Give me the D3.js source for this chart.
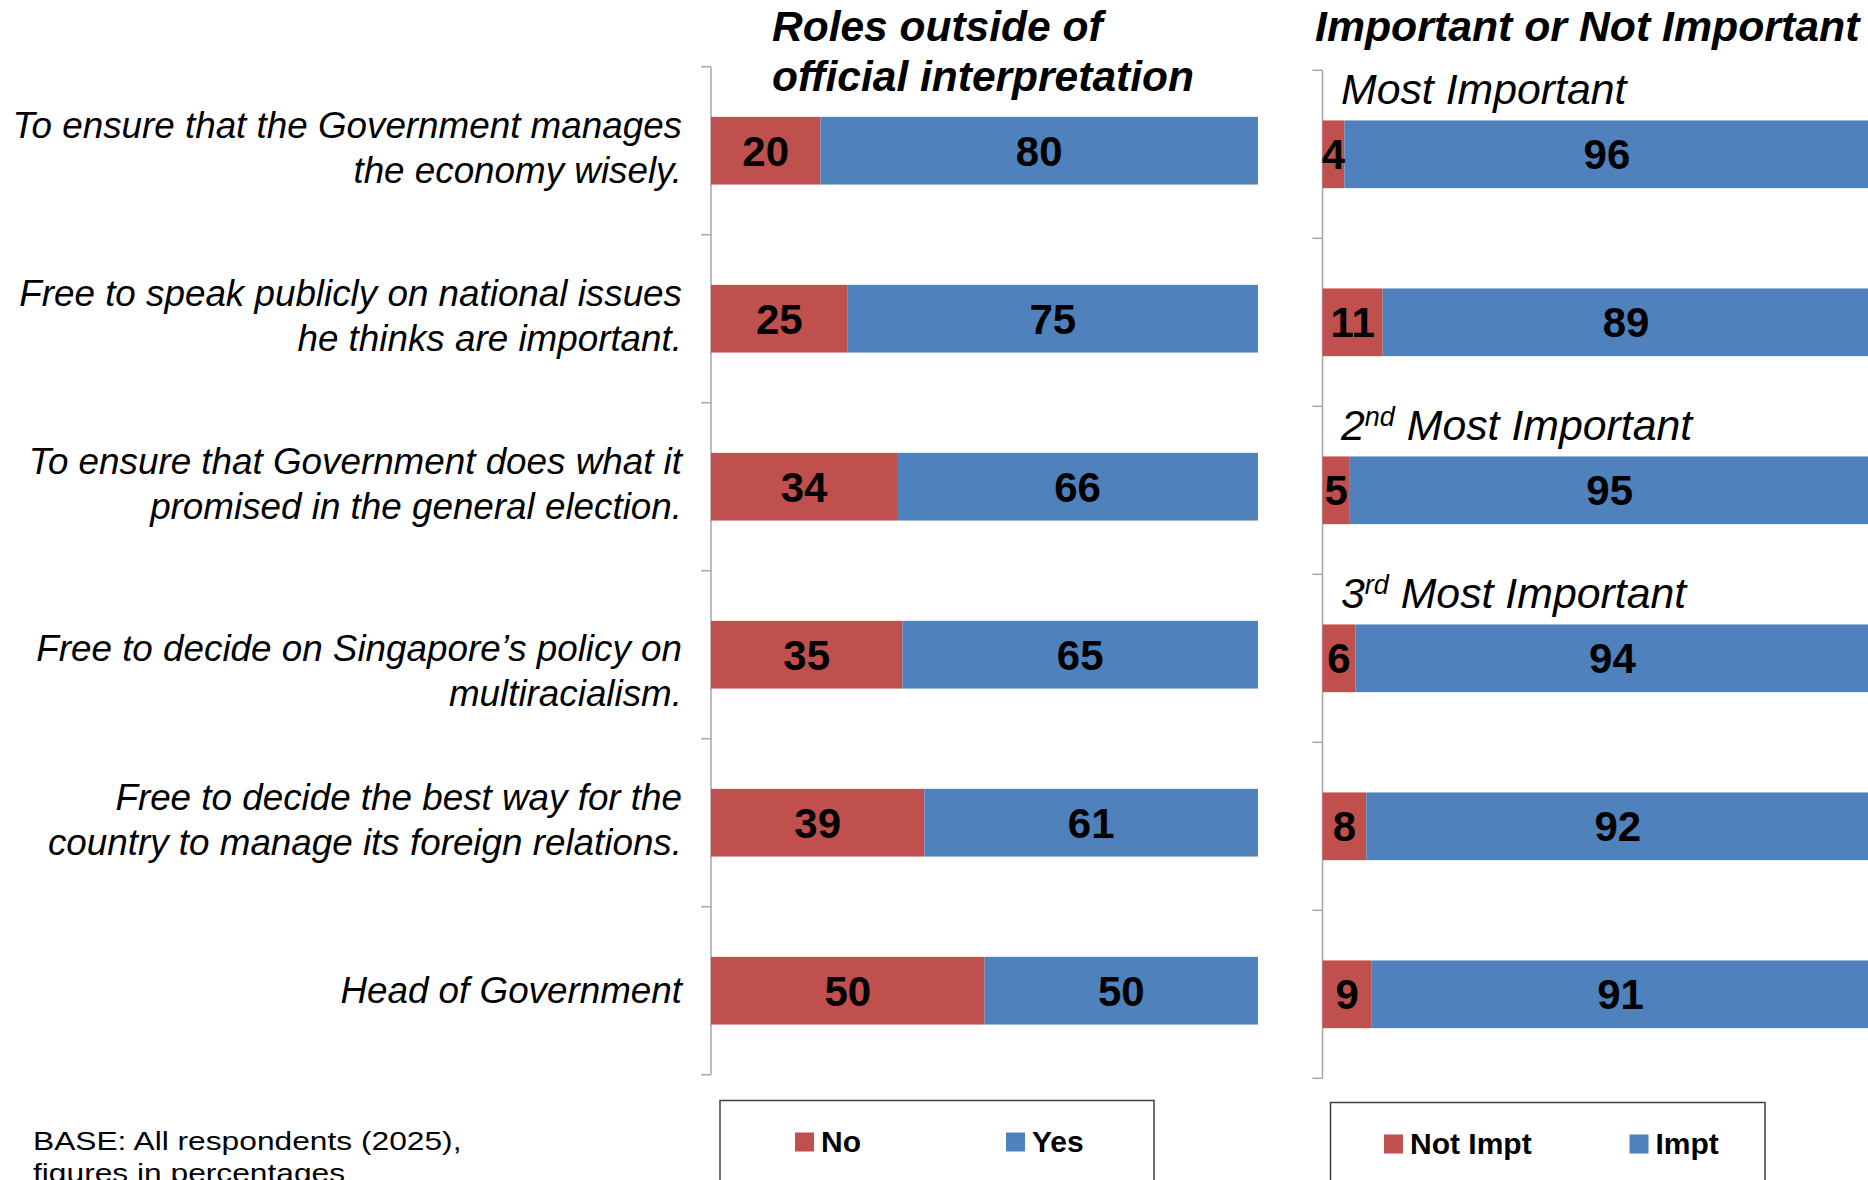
<!DOCTYPE html>
<html>
<head>
<meta charset="utf-8">
<script src="https://cdn.jsdelivr.net/npm/d3@7"></script>
<style>
  html, body { margin: 0; padding: 0; background: #fff; }
  svg { display: block; }
  text { font-family: "Liberation Sans", Arial, sans-serif; }
</style>
</head>
<body>
<svg id="chart" width="1868" height="1180"></svg>
<script>
// Row labels (each entry is split into its display lines)
const categories = [
  ["To ensure that the Government manages", "the economy wisely."],
  ["Free to speak publicly on national issues", "he thinks are important."],
  ["To ensure that Government does what it", "promised in the general election."],
  ["Free to decide on Singapore\u2019s policy on", "multiracialism."],
  ["Free to decide the best way for the", "country to manage its foreign relations."],
  ["Head of Government"]
];

// Left panel: roles outside of official interpretation
const noValues  = [20, 25, 34, 35, 39, 50];
const yesValues = [80, 75, 66, 65, 61, 50];

// Right panel: important or not important
const notImptValues = [4, 11, 5, 6, 8, 9];
const imptValues    = [96, 89, 95, 94, 92, 91];

// Rank captions above rows of the right panel
const rankCaptions = [
  { row: 0, ord: "",  sup: "",   text: "Most Important" },
  { row: 2, ord: "2", sup: "nd", text: " Most Important" },
  { row: 3, ord: "3", sup: "rd", text: " Most Important" }
];

const panelTitles = [["Roles outside of", "official interpretation"], ["Important or Not Important"]];
const leftLegend  = ["No", "Yes"];
const rightLegend = ["Not Impt", "Impt"];
const baseNote    = ["BASE: All respondents (2025),", "figures in percentages"];

const RED = "#C0504D", BLUE = "#4F81BD", AXIS = "#A6A6A6";

const svg = d3.select("#chart");
const rows = d3.range(categories.length);

function panel(opts) {
  const { x0, x1, y0, y1, first, second } = opts;
  const x = d3.scaleLinear().domain([0, 100]).range([x0, x1]);
  const y = d3.scaleBand().domain(rows).range([y0, y1])
    .paddingInner(0.597).paddingOuter(0.2985);
  const step = y.step();
  const g = svg.append("g");

  // Vertical category axis with outward ticks at band boundaries
  g.append("line")
    .attr("x1", x0).attr("x2", x0).attr("y1", y0).attr("y2", y1)
    .attr("stroke", AXIS).attr("stroke-width", 1.5);
  g.selectAll(".tick").data(d3.range(rows.length + 1)).join("line")
    .attr("x1", x0 - 10).attr("x2", x0)
    .attr("y1", i => y0 + i * step).attr("y2", i => y0 + i * step)
    .attr("stroke", AXIS).attr("stroke-width", 1.5);

  // Stacked segments
  g.selectAll(".seg1").data(rows).join("rect")
    .attr("x", x(0)).attr("y", i => y(i))
    .attr("width", i => x(first[i]) - x(0)).attr("height", y.bandwidth())
    .attr("fill", RED);
  g.selectAll(".seg2").data(rows).join("rect")
    .attr("x", i => x(first[i])).attr("y", i => y(i))
    .attr("width", i => x(first[i] + second[i]) - x(first[i])).attr("height", y.bandwidth())
    .attr("fill", BLUE);

  // Value labels centred on each segment
  const lab = (vals, startFn) => g.selectAll(null).data(rows).join("text")
    .attr("x", i => (x(startFn(i)) + x(startFn(i) + vals[i])) / 2)
    .attr("y", i => y(i) + y.bandwidth() / 2 + 15)
    .attr("text-anchor", "middle")
    .attr("font-size", 42).attr("font-weight", "bold").attr("fill", "#000")
    .text(i => vals[i]);
  lab(first, () => 0);
  lab(second, i => first[i]);
  return { x, y };
}

const left = panel({ x0: 711, x1: 1258, y0: 66.7, y1: 1074.7, first: noValues, second: yesValues });
const right = panel({ x0: 1322.5, x1: 1869.5, y0: 70.3, y1: 1078.3, first: notImptValues, second: imptValues });

// Category labels, right aligned against the left axis
// (the multiracialism label sits a little lower in its band)
const labelNudge = { 3: 19 };
const catG = svg.append("g");
rows.forEach(i => {
  const lines = categories[i];
  const cy = left.y(i) + left.y.bandwidth() / 2;
  const lh = 45;
  const firstBase = cy + 12 - (lines.length - 1) * lh / 2 - (lines.length > 1 ? 2 : 0) + (labelNudge[i] || 0);
  const t = catG.append("text")
    .attr("text-anchor", "end")
    .attr("font-size", 36.8).attr("font-style", "italic").attr("fill", "#000");
  lines.forEach((ln, k) => {
    t.append("tspan").attr("x", 682).attr("y", firstBase + k * lh).text(ln);
  });
});

// Panel titles
svg.append("text")
  .attr("font-size", 42.5).attr("font-weight", "bold").attr("font-style", "italic")
  .selectAll("tspan").data(panelTitles[0]).join("tspan")
  .attr("x", 772).attr("y", (d, k) => 40.7 + k * 50).text(d => d);
svg.append("text")
  .attr("x", 1315).attr("y", 40.7)
  .attr("font-size", 42.8).attr("font-weight", "bold").attr("font-style", "italic")
  .text(panelTitles[1][0]);

// Rank captions above the right panel rows
rankCaptions.forEach(c => {
  const t = svg.append("text")
    .attr("x", 1341).attr("y", right.y(c.row) - 16)
    .attr("font-size", 42.8).attr("font-style", "italic").attr("fill", "#000");
  if (c.ord) {
    t.append("tspan").text(c.ord);
    t.append("tspan").attr("dy", -14).attr("font-size", 27).text(c.sup);
    t.append("tspan").attr("dy", 14).text(c.text);
  } else {
    t.text(c.text);
  }
});

// Legends
function legend(box, items, sx) {
  const g = svg.append("g");
  g.append("rect")
    .attr("x", box[0]).attr("y", box[1]).attr("width", box[2] - box[0]).attr("height", 140)
    .attr("fill", "#fff").attr("stroke", "#404040").attr("stroke-width", 1.5);
  items.forEach((name, k) => {
    g.append("rect")
      .attr("x", sx[k]).attr("y", box[1] + 32).attr("width", 19).attr("height", 19)
      .attr("fill", k === 0 ? RED : BLUE);
    g.append("text")
      .attr("x", sx[k] + 26).attr("y", box[1] + 51)
      .attr("font-size", 30).attr("font-weight", "bold").attr("fill", "#000")
      .text(name);
  });
}
legend([720, 1100.5, 1154], leftLegend, [795, 1006]);
legend([1330.5, 1102.5, 1765], rightLegend, [1384, 1629.5]);

// Base note (set in a horizontally widened face)
svg.append("g").attr("transform", "translate(33,0) scale(1.22,1)")
  .append("text")
  .attr("font-size", 26).attr("fill", "#000")
  .selectAll("tspan").data(baseNote).join("tspan")
  .attr("x", 0).attr("y", (d, k) => 1150 + k * 32).text(d => d);
</script>
</body>
</html>
